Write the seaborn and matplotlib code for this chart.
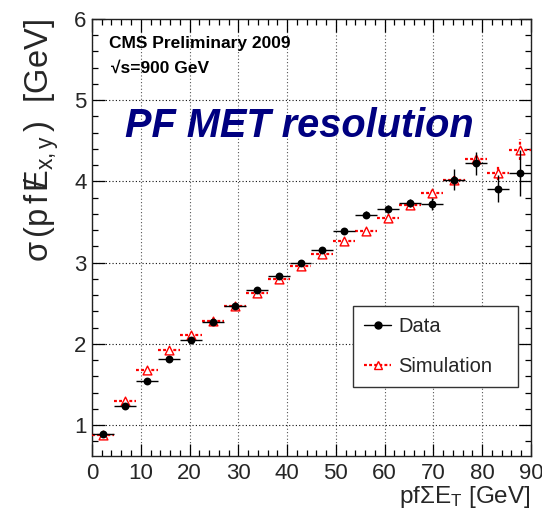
import numpy as np
import pandas as pd
import seaborn as sns
import matplotlib
matplotlib.use("Agg")
import matplotlib.pyplot as plt
from matplotlib.ticker import MultipleLocator
from matplotlib.lines import Line2D

# Binned resolution of particle-flow MET vs. particle-flow sum E_T
bin_centers = [2.25, 6.75, 11.25, 15.75, 20.25, 24.75, 29.25, 33.75, 38.25, 42.75,
               47.25, 51.75, 56.25, 60.75, 65.25, 69.75, 74.25, 78.75, 83.25, 87.75]
bin_halfwidth = [2.25] * 20

data_sigma = [0.89, 1.24, 1.54, 1.81, 2.05, 2.27, 2.46, 2.66, 2.83, 2.99,
              3.15, 3.39, 3.59, 3.66, 3.73, 3.72, 4.02, 4.22, 3.91, 4.10]
data_err = [0.01, 0.01, 0.01, 0.01, 0.02, 0.02, 0.02, 0.02, 0.03, 0.03,
            0.03, 0.04, 0.04, 0.05, 0.05, 0.07, 0.13, 0.14, 0.17, 0.28]

sim_sigma = [0.88, 1.30, 1.68, 1.92, 2.11, 2.28, 2.46, 2.62, 2.80, 2.96,
             3.10, 3.26, 3.39, 3.55, 3.71, 3.85, 4.02, 4.27, 4.10, 4.39]
sim_err = [0.01, 0.01, 0.01, 0.01, 0.01, 0.01, 0.02, 0.02, 0.02, 0.02,
           0.02, 0.03, 0.03, 0.03, 0.04, 0.05, 0.05, 0.06, 0.09, 0.13]

x_ticks = [0, 10, 20, 30, 40, 50, 60, 70, 80, 90]
y_ticks = [1, 2, 3, 4, 5, 6]

sns.set_theme(style="ticks")
plt.rcParams["font.family"] = ["Liberation Sans", "DejaVu Sans"]
plt.rcParams["mathtext.fontset"] = "custom"
plt.rcParams["mathtext.rm"] = "Liberation Sans"
plt.rcParams["mathtext.it"] = "Liberation Sans:italic"
plt.rcParams["mathtext.bf"] = "Liberation Sans:bold"

df = pd.DataFrame({"x": bin_centers, "xerr": bin_halfwidth,
                   "data": data_sigma, "data_err": data_err,
                   "sim": sim_sigma, "sim_err": sim_err})

fig = plt.figure(figsize=(5.42, 5.15), dpi=100)
ax = fig.add_axes([0.1697, 0.1146, 0.81, 0.849])

sim_ls = (0, (1.3, 1.0))

# simulation: dashed red error crosses with open triangles
ax.errorbar(df["x"], df["sim"], xerr=df["xerr"], yerr=df["sim_err"],
            fmt="none", ecolor="red", elinewidth=1.6, linestyle=sim_ls, zorder=3)
for c in ax.containers[-1].lines[2]:
    c.set_linestyle(sim_ls)
sns.scatterplot(data=df, x="x", y="sim", marker="^", s=40, facecolor="white",
                edgecolor="red", linewidth=1.0, ax=ax, zorder=4, legend=False)

# data: solid black error crosses with filled circles
ax.errorbar(df["x"], df["data"], xerr=df["xerr"], yerr=df["data_err"],
            fmt="none", ecolor="black", elinewidth=1.0, zorder=5)
sns.scatterplot(data=df, x="x", y="data", marker="o", s=32, color="black",
                edgecolor="black", linewidth=0, ax=ax, zorder=6, legend=False)

ax.set_xlim(0, 90)
ax.set_ylim(0.62, 6.0)
ax.set_xticks(x_ticks)
ax.set_yticks(y_ticks)
ax.xaxis.set_minor_locator(MultipleLocator(2))
ax.yaxis.set_minor_locator(MultipleLocator(0.2))
ax.tick_params(which="both", direction="in", top=True, right=True,
               labelsize=16, width=0.9, color="black")
ax.tick_params(which="major", length=9)
ax.tick_params(which="minor", length=4.5)
ax.tick_params(axis="x", pad=5)
ax.tick_params(axis="y", pad=4)
ax.xaxis.grid(True, which="major", color="#555555", linestyle=(0, (1, 2)), linewidth=0.8)
ax.yaxis.grid(True, which="major", color="#111111", linestyle=(0, (1, 2)), linewidth=0.8)
ax.set_axisbelow(True)
for s in ax.spines.values():
    s.set_linewidth(1.0)
    s.set_color("#222222")

ax.set_xlabel(r"pf$\mathregular{\Sigma E_T}$ [GeV]", fontsize=17.5, loc="right", labelpad=0)
ax.set_ylabel(r"$\mathregular{σ\,(p\,f\;}{/}\!\!\!\mathregular{E_{x,y}\,)}$  [GeV]",
              fontsize=23.5, loc="top", labelpad=9)

ax.text(0.0387, 0.933, "CMS Preliminary 2009", transform=ax.transAxes,
        fontsize=12.5, fontweight="bold", color="black")
ax.text(0.043, 0.876, "√s=900 GeV", transform=ax.transAxes,
        fontsize=12.5, fontweight="bold", color="black")
ax.text(0.075, 0.7295, "PF MET resolution", transform=ax.transAxes,
        fontsize=28.6, fontweight="bold", fontstyle="italic", color="#000080")

handles = [
    Line2D([], [], color="black", lw=1.0, marker="o", markersize=5,
           markerfacecolor="black", markeredgecolor="black"),
    Line2D([], [], color="red", lw=1.6, linestyle=sim_ls, marker="^", markersize=6,
           markerfacecolor="white", markeredgecolor="red"),
]
leg = ax.legend(handles, ["Data", "Simulation"], loc="lower left",
                bbox_to_anchor=(0.595, 0.158, 0.375, 0.183), mode="expand",
                fontsize=14.5, frameon=True, fancybox=False, shadow=False,
                borderpad=0.55, labelspacing=1.05, handlelength=1.35,
                handletextpad=0.35, borderaxespad=0)
leg.get_frame().set_edgecolor("#333333")
leg.get_frame().set_linewidth(1.0)
leg.get_frame().set_alpha(1.0)
leg.set_zorder(10)

fig.savefig("out.png", dpi=100)
